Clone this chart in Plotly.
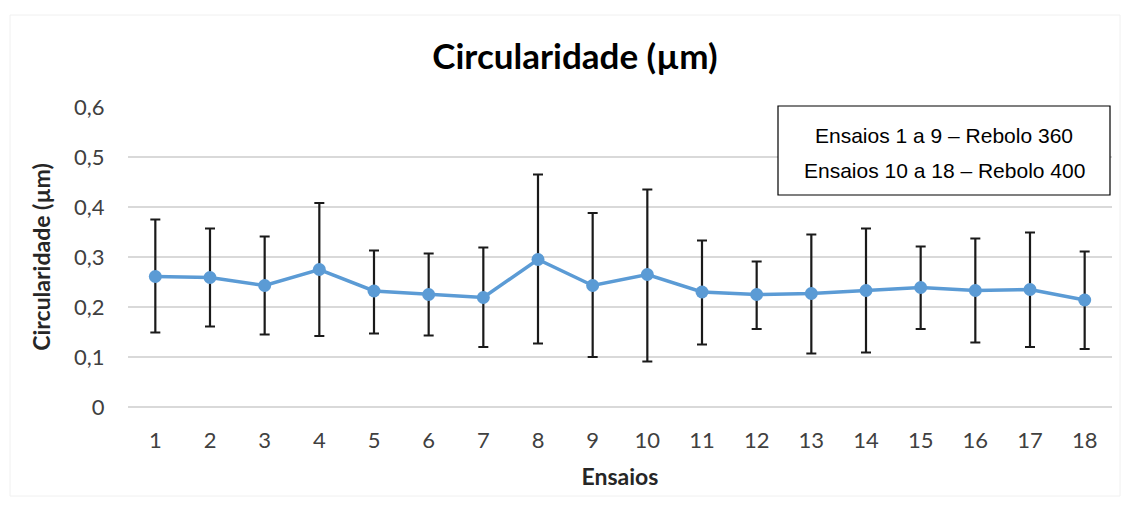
import plotly.graph_objects as go

ensaios = [str(i) for i in range(1, 19)]
media = [0.261, 0.259, 0.243, 0.275, 0.232, 0.225, 0.219, 0.295, 0.243,
         0.265, 0.230, 0.225, 0.227, 0.233, 0.239, 0.233, 0.235, 0.214]
limite_sup = [0.375, 0.357, 0.341, 0.408, 0.313, 0.307, 0.319, 0.465, 0.388,
              0.435, 0.333, 0.291, 0.345, 0.357, 0.321, 0.337, 0.349, 0.311]
limite_inf = [0.149, 0.161, 0.145, 0.142, 0.147, 0.143, 0.120, 0.127, 0.100,
              0.091, 0.125, 0.156, 0.107, 0.109, 0.156, 0.129, 0.120, 0.116]
err_plus = [s - m for s, m in zip(limite_sup, media)]
err_minus = [m - i for m, i in zip(media, limite_inf)]
y_ticks = [0, 0.1, 0.2, 0.3, 0.4, 0.5, 0.6]
y_ticklabels = ["0", "0,1", "0,2", "0,3", "0,4", "0,5", "0,6"]

W, H = 1126, 511
FONT = "Lato"
PL, PR, PT, PB = 128, 1112, 107, 407
pw, ph = PR - PL, PB - PT


def px(x):
    return (x - PL) / pw


def py(y):
    return (PB - y) / ph


fig = go.Figure()
fig.add_trace(go.Scatter(
    x=ensaios, y=media, mode="lines+markers",
    line=dict(color="#5b9bd5", width=3.5),
    marker=dict(color="#5b9bd5", size=13),
    error_y=dict(type="data", symmetric=False, array=err_plus, arrayminus=err_minus,
                 color="#1a1a1a", thickness=2.2, width=5),
    showlegend=False,
))

fig.update_layout(
    width=W, height=H,
    margin=dict(l=PL, r=W - PR, t=PT, b=H - PB),
    paper_bgcolor="white", plot_bgcolor="white",
    font=dict(family=FONT, color="#404040"),
    title=dict(text="<b>Circularidade (µm)</b>", xref="container", yref="container",
               x=575 / W, y=1 - 57 / H, xanchor="center", yanchor="middle",
               font=dict(family=FONT, size=35, color="#000000")),
    xaxis=dict(
        type="category", range=[-0.5, 17.5], showgrid=False, zeroline=False, showline=False,
        ticks="outside", ticklen=14, tickcolor="rgba(0,0,0,0)",
        tickfont=dict(family=FONT, size=22, color="#404040"),
        title=dict(text="<b>Ensaios</b>", standoff=16,
                   font=dict(family=FONT, size=23, color="#262626")),
    ),
    yaxis=dict(
        range=[0, 0.6], tickvals=y_ticks, ticktext=y_ticklabels,
        showgrid=True, gridcolor="#d9d9d9", gridwidth=1.5,
        zeroline=True, zerolinecolor="#d9d9d9", zerolinewidth=1.5, showline=False,
        ticks="outside", ticklen=18, tickcolor="rgba(0,0,0,0)",
        tickfont=dict(family=FONT, size=22, color="#404040"),
        title=dict(text="<b>Circularidade (µm)</b>", standoff=17,
                   font=dict(family=FONT, size=23, color="#262626")),
    ),
    shapes=[
        dict(type="rect", xref="paper", yref="paper",
             x0=px(778), x1=px(1110), y0=py(195), y1=py(106),
             line=dict(color="#000000", width=1.2), fillcolor="white", layer="above"),
        dict(type="rect", xref="paper", yref="paper",
             x0=px(10), x1=px(1120), y0=py(496), y1=py(15),
             line=dict(color="#f0f0f0", width=1), layer="below"),
    ],
    annotations=[
        dict(text="Ensaios 1 a 9 – Rebolo 360", xref="paper", yref="paper",
             x=px(944), y=py(135), showarrow=False,
             xanchor="center", yanchor="middle",
             font=dict(family="Liberation Sans", size=21, color="#000000")),
        dict(text="Ensaios 10 a 18 – Rebolo 400", xref="paper", yref="paper",
             x=px(944), y=py(170), showarrow=False,
             xanchor="center", yanchor="middle",
             font=dict(family="Liberation Sans", size=21, color="#000000")),
    ],
    separators=",.",
)

fig.write_html("out.html")
